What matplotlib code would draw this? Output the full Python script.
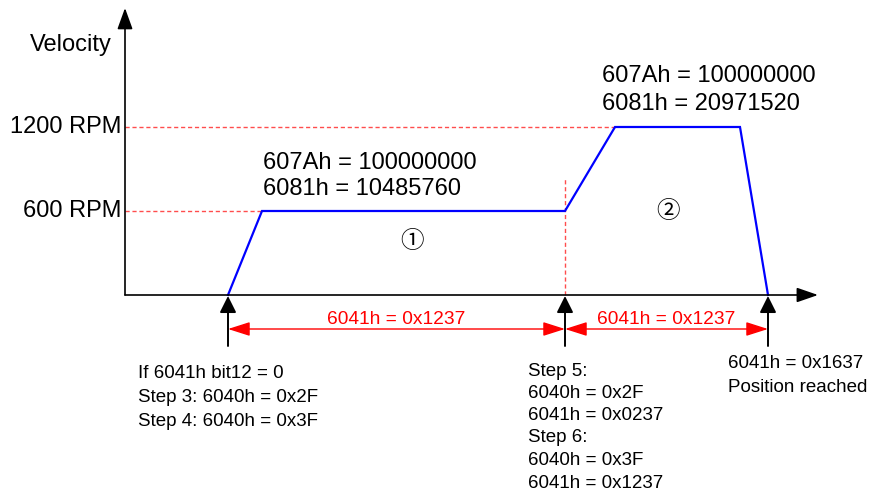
import matplotlib
matplotlib.use("Agg")
import matplotlib.pyplot as plt

plt.rcParams['font.family'] = ['Liberation Sans', 'DejaVu Sans']

# velocity profile (time in arbitrary units, velocity in RPM)
time = [10.3, 13.7, 44.0, 49.0, 61.5, 64.3]
velocity = [0, 600, 600, 1200, 1200, 0]

# reference speed levels
speed_levels = [600, 1200]
speed_labels = ["600 RPM", "1200 RPM"]

# event times (start, step 5/6, position reached)
event_times = [10.3, 44.0, 64.3]
segment_label = "6041h = 0x1237"

# object values per segment
seg1_text = ["607Ah = 100000000", "6081h = 10485760"]
seg2_text = ["607Ah = 100000000", "6081h = 20971520"]

notes_start = ["If 6041h bit12 = 0", "Step 3: 6040h = 0x2F", "Step 4: 6040h = 0x3F"]
notes_step5 = ["Step 5:", "6040h = 0x2F", "6041h = 0x0237"]
notes_step6 = ["Step 6:", "6040h = 0x3F", "6041h = 0x1237"]
notes_end = ["6041h = 0x1637", "Position reached"]

# layout: 10 px per time unit, 0.14 px per RPM, origin at pixel (125, 295)
W, H = 870, 495
X0, Y0 = 125, 295
SX, SY = 10.0, 0.14


def tx(px):
    return (px - X0) / SX


def vy(py):
    return (Y0 - py) / SY


fig = plt.figure(figsize=(W / 100, H / 100), dpi=100)
ax = fig.add_axes([0, 0, 1, 1])
ax.set_xlim(tx(0), tx(W))
ax.set_ylim(vy(H), vy(0))
ax.axis('off')

blue = '#0000ff'
red = '#ff0000'
dash_red = '#ff4d4d'

# axes with arrows
ax.annotate('', xy=(0, vy(8)), xytext=(0, 0),
            arrowprops=dict(arrowstyle='-|>,head_length=1.3,head_width=0.47',
                            mutation_scale=10, color='black', lw=1.2,
                            shrinkA=0, shrinkB=0))
ax.annotate('', xy=(tx(818), 0), xytext=(0, 0),
            arrowprops=dict(arrowstyle='-|>,head_length=1.3,head_width=0.45',
                            mutation_scale=10, color='black', lw=1.2,
                            shrinkA=0, shrinkB=0))
ax.text(tx(71), vy(45), "Velocity", fontsize=17, ha='center', va='center')

# dashed reference lines and labels
for lvl, lab in zip(speed_levels, speed_labels):
    t_reach = time[velocity.index(lvl)]
    ax.plot([0, t_reach], [lvl, lvl], color=dash_red, lw=1.0, ls=(0, (3, 2)))
    ax.text(tx(122), lvl, lab, fontsize=17, ha='right', va='center')

# vertical dashed line at step 5
ax.plot([event_times[1], event_times[1]], [0, vy(177)], color=dash_red,
        lw=1.0, ls=(0, (3, 2)))

# profile
ax.plot(time, velocity, color=blue, lw=1.6, solid_joinstyle='miter')

# object value annotations
for i, s in enumerate(seg1_text):
    ax.text(time[1] + tx(263) - tx(262), vy(163 + 26 * i), s, fontsize=17,
            ha='left', va='center')
for i, s in enumerate(seg2_text):
    ax.text(tx(602), vy(76 + 28 * i), s, fontsize=17, ha='left', va='center')

ax.text(tx(412), vy(242), "\u2460", fontsize=17, ha='center', va='center',
        family=['Noto Sans CJK SC', 'DejaVu Sans'])
ax.text(tx(668), vy(211), "\u2461", fontsize=17, ha='center', va='center',
        family=['Noto Sans CJK SC', 'DejaVu Sans'])

# event arrows below the axis
for t in event_times:
    ax.annotate('', xy=(t, vy(296)), xytext=(t, vy(346)),
                arrowprops=dict(arrowstyle='-|>,head_length=1.0,head_width=0.5',
                                mutation_scale=10, color='black', lw=1.4,
                                shrinkA=0, shrinkB=0))

# red dimension arrows between events
for a, b in zip(event_times[:-1], event_times[1:]):
    ax.annotate('', xy=(b, vy(329)), xytext=(a, vy(329)),
                arrowprops=dict(arrowstyle='<|-|>,head_length=1.35,head_width=0.43',
                                mutation_scale=10, color=red, lw=1.0,
                                shrinkA=0, shrinkB=0))
    ax.text((a + b) / 2, vy(319), segment_label, fontsize=13.8, color=red,
            ha='center', va='center')

# notes
for i, s in enumerate(notes_start):
    ax.text(tx(138), vy(374 + 23.5 * i), s, fontsize=13.5, ha='left', va='center')
for i, s in enumerate(notes_step5):
    ax.text(tx(528), vy(372 + 21.5 * i), s, fontsize=13.5, ha='left', va='center')
for i, s in enumerate(notes_step6):
    ax.text(tx(528), vy(438 + 22.5 * i), s, fontsize=13.5, ha='left', va='center')
for i, s in enumerate(notes_end):
    ax.text(tx(728), vy(364 + 23 * i), s, fontsize=13.5, ha='left', va='center')

fig.savefig("out.png", dpi=100)
